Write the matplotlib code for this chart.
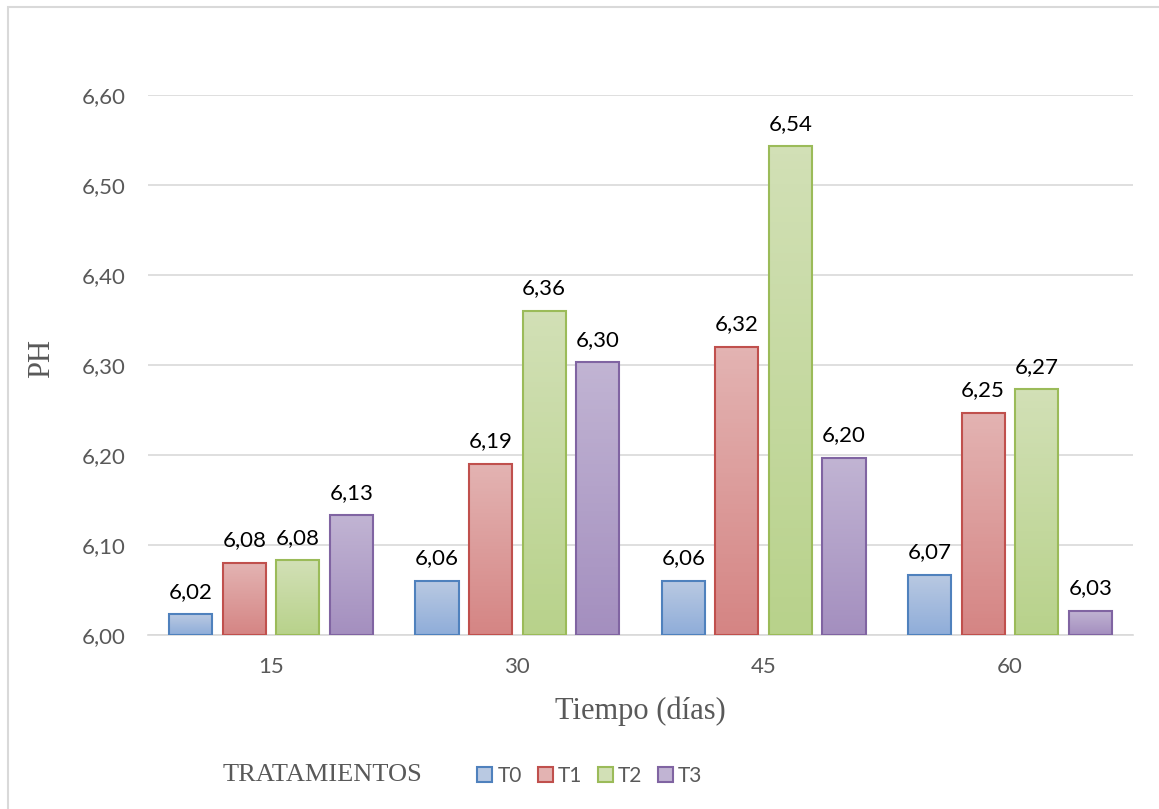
import numpy as np
import matplotlib.pyplot as plt
from matplotlib.colors import to_rgb
from matplotlib.patches import Patch, Rectangle

# pH por tratamiento en cada fecha de muestreo
dias = ['15', '30', '45', '60']
tratamientos = ['T0', 'T1', 'T2', 'T3']
ph_t0 = [6.023, 6.060, 6.060, 6.067]
ph_t1 = [6.080, 6.190, 6.320, 6.247]
ph_t2 = [6.083, 6.360, 6.543, 6.273]
ph_t3 = [6.133, 6.303, 6.197, 6.027]
y_ticks = [6.00, 6.10, 6.20, 6.30, 6.40, 6.50, 6.60]

series = [ph_t0, ph_t1, ph_t2, ph_t3]
# borde, color arriba, color abajo (degradado vertical)
estilos = [
    ('#4f81bd', '#b9c9e2', '#8fadd9'),
    ('#c0504d', '#e3b3b2', '#d58584'),
    ('#9bbb59', '#d2e0b6', '#b8d28b'),
    ('#8064a2', '#c1b4d3', '#a48fbf'),
]

sans = ['Lato', 'DejaVu Sans']
serif = ['Liberation Serif', 'DejaVu Serif']
gris = '#595959'

fig = plt.figure(figsize=(11.59, 8.09), dpi=100)
ax = fig.add_axes([148 / 1159, 1 - 635 / 809, (1133 - 148) / 1159, (635 - 95) / 809])

x = np.arange(len(dias))
paso = 0.2175
ancho = 0.175

for i, (vals, (borde, c_top, c_bot)) in enumerate(zip(series, estilos)):
    pos = x + (i - 1.5) * paso
    bars = ax.bar(pos, np.array(vals) - 6.0, bottom=6.0, width=ancho,
                  facecolor='none', edgecolor=borde, linewidth=1.5, zorder=3)
    grad = np.linspace(0, 1, 64)[:, None]
    top = np.array(to_rgb(c_top))
    bot = np.array(to_rgb(c_bot))
    img = (top[None, None, :] * (1 - grad[:, :, None]) +
           bot[None, None, :] * grad[:, :, None])
    for b, v in zip(bars, vals):
        x0 = b.get_x()
        im = ax.imshow(img, extent=(x0, x0 + b.get_width(), 6.0, v),
                       aspect='auto', origin='upper', zorder=2)
        im.set_clip_path(b)
        ax.annotate(f'{v:.2f}'.replace('.', ','), (b.get_x() + b.get_width() / 2, v),
                    xytext=(0, 9), textcoords='offset points', ha='center', va='bottom',
                    fontsize=16, family=sans, color='black', zorder=4)

ax.set_xlim(-0.5, len(dias) - 0.5)
ax.set_ylim(6.0, 6.6)
ax.set_yticks(y_ticks)
ax.set_yticklabels([f'{t:.2f}'.replace('.', ',') for t in y_ticks],
                   fontsize=16, family=sans, color=gris)
ax.set_xticks(x)
ax.set_xticklabels(dias, fontsize=16, family=sans, color=gris)
ax.tick_params(axis='x', length=0, pad=16)
ax.tick_params(axis='y', length=0, pad=16)
ax.grid(axis='y', color='#d9d9d9', linewidth=1.2, zorder=0)
ax.set_axisbelow(True)
for s in ['top', 'right', 'left']:
    ax.spines[s].set_visible(False)
ax.spines['bottom'].set_color('#d9d9d9')
ax.spines['bottom'].set_linewidth(1.2)

ax.set_xlabel('Tiempo (días)', fontsize=22, family=serif, color=gris, labelpad=14)
fig.text(42 / 1159, 1 - 358 / 809, 'PH', rotation=90, fontsize=22, family=serif,
         color=gris, ha='center', va='center')

# marco del área del gráfico
fig.patches.append(Rectangle((8 / 1159, -0.1), 1.2, 1 - 7 / 809 + 0.1,
                             transform=fig.transFigure, fill=False,
                             edgecolor='#d9d9d9', linewidth=1.5))

handles = [Patch(facecolor=c_top, edgecolor=borde, linewidth=1.5)
           for borde, c_top, _ in estilos]
leg = fig.legend(handles, tratamientos, loc='center', bbox_to_anchor=(590 / 1159, 1 - 776 / 809),
                 ncol=4, frameon=False, handlelength=0.72, handleheight=0.72,
                 handletextpad=0.25, columnspacing=0.75, borderpad=0,
                 prop={'family': sans, 'size': 15})
for t in leg.get_texts():
    t.set_color(gris)

fig.text(223 / 1159, 1 - 775 / 809, 'TRATAMIENTOS', fontsize=19, family=serif,
         color=gris, ha='left', va='center')

fig.savefig('out.png', dpi=100)
